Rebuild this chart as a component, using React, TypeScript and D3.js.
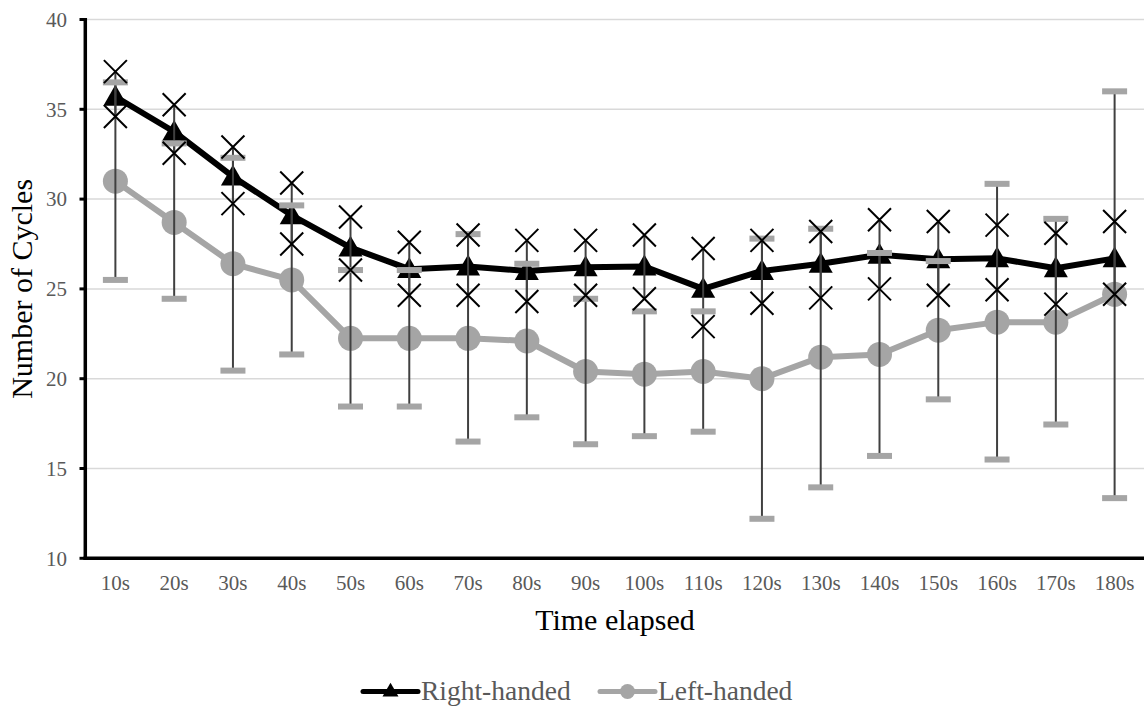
import React from "react";
import * as d3 from "d3";

const categories = ["10s", "20s", "30s", "40s", "50s", "60s", "70s", "80s", "90s", "100s", "110s", "120s", "130s", "140s", "150s", "160s", "170s", "180s"];

const rightMean = [35.7, 33.75, 31.25, 29.1, 27.3, 26.1, 26.25, 26.0, 26.2, 26.25, 25.0, 26.0, 26.4, 26.9, 26.65, 26.7, 26.15, 26.7];
const rightHigh = [37.1, 35.25, 32.9, 30.9, 29.0, 27.6, 28.0, 27.7, 27.7, 28.0, 27.25, 27.7, 28.2, 28.85, 28.75, 28.55, 28.1, 28.75];
const rightLow = [34.6, 32.55, 29.75, 27.5, 26.05, 24.65, 24.65, 24.3, 24.65, 24.45, 22.9, 24.2, 24.5, 25.0, 24.65, 24.95, 24.15, 24.7];

const leftMean = [31.0, 28.7, 26.4, 25.5, 22.25, 22.25, 22.25, 22.1, 20.4, 20.25, 20.4, 20.0, 21.2, 21.35, 22.7, 23.15, 23.15, 24.7];
const leftHigh = [36.5, 33.1, 32.3, 29.65, 26.05, 26.05, 28.05, 26.4, 24.45, 23.75, 23.75, 27.8, 28.35, 27.0, 26.55, 30.85, 28.9, 36.0];
const leftLow = [25.5, 24.45, 20.45, 21.35, 18.45, 18.45, 16.5, 17.85, 16.35, 16.8, 17.05, 12.2, 13.95, 15.7, 18.85, 15.5, 17.45, 13.35];

const yTicks = [10, 15, 20, 25, 30, 35, 40];

const width = 1144;
const height = 706;
const font = "'Liberation Serif', 'Times New Roman', serif";
const black = "#000000";
const gray = "#a5a5a5";

export default function App() {
  const x = d3.scalePoint<string>().domain(categories).range([86, 1144]).padding(0.5);
  const y = d3.scaleLinear().domain([10, 40]).range([558.3, 19.5]);

  const lineGen = d3
    .line<number>()
    .x((_, i) => x(categories[i]) as number)
    .y((d) => y(d));

  const tri = d3.symbol().type(d3.symbolTriangle).size(250)();
  const triSmall = d3.symbol().type(d3.symbolTriangle).size(110)();

  const cross = (cx: number, cy: number, r: number) =>
    `M${cx - r},${cy - r}L${cx + r},${cy + r}M${cx - r},${cy + r}L${cx + r},${cy - r}`;

  return (
    <div style={{ position: "absolute", left: 0, top: 0 }}>
      <svg width={width} height={height} style={{ display: "block", background: "#fff" }}>
        {/* gridlines */}
        {yTicks.map((t) => (
          <line key={"g" + t} x1={86} x2={1144} y1={y(t)} y2={y(t)} stroke="#d9d9d9" strokeWidth={1.5} />
        ))}

        {/* y tick labels and ticks */}
        {yTicks.map((t) => (
          <g key={"t" + t}>
            <line x1={79.5} x2={85} y1={y(t)} y2={y(t)} stroke={black} strokeWidth={3} />
            <text x={67} y={y(t)} dy="0.35em" textAnchor="end" fontFamily={font} fontSize={21} fill="#595959">
              {t}
            </text>
          </g>
        ))}

        {/* x tick labels */}
        {categories.map((c) => (
          <text key={"x" + c} x={x(c)} y={590} textAnchor="middle" fontFamily={font} fontSize={21} fill="#595959">
            {c}
          </text>
        ))}

        {/* left-handed series */}
        <path d={lineGen(leftMean) || ""} fill="none" stroke={gray} strokeWidth={6} strokeLinejoin="round" />
        {leftMean.map((v, i) => (
          <circle key={"c" + i} cx={x(categories[i])} cy={y(v)} r={12.5} fill={gray} />
        ))}

        {/* right-handed series */}
        <path d={lineGen(rightMean) || ""} fill="none" stroke={black} strokeWidth={6} strokeLinejoin="round" />
        {rightMean.map((v, i) => (
          <path key={"tr" + i} d={tri || ""} transform={`translate(${x(categories[i])},${y(v) + 2})`} fill={black} />
        ))}

        {/* error bars */}
        {categories.map((c, i) => (
          <g key={"e" + c}>
            <line x1={x(c)} x2={x(c)} y1={y(leftHigh[i])} y2={y(leftLow[i])} stroke="#404040" strokeWidth={2} />
            <line x1={x(c)} x2={x(c)} y1={y(rightHigh[i])} y2={y(rightLow[i])} stroke="#404040" strokeWidth={2} />
          </g>
        ))}
        {categories.map((c, i) => (
          <g key={"cap" + c}>
            <rect x={(x(c) as number) - 12.5} y={y(leftHigh[i]) - 3} width={25} height={6} fill={gray} />
            <rect x={(x(c) as number) - 12.5} y={y(leftLow[i]) - 3} width={25} height={6} fill={gray} />
          </g>
        ))}
        {categories.map((c, i) => (
          <g key={"xm" + c}>
            <path d={cross(x(c) as number, y(rightHigh[i]), 11.5)} stroke={black} strokeWidth={2} fill="none" />
            <path d={cross(x(c) as number, y(rightLow[i]), 11.5)} stroke={black} strokeWidth={2} fill="none" />
          </g>
        ))}

        {/* axes */}
        <line x1={85.3} x2={85.3} y1={18} y2={560} stroke={black} strokeWidth={3.5} />
        <line x1={83.5} x2={1144} y1={558.3} y2={558.3} stroke={black} strokeWidth={3.5} />

        {/* axis titles */}
        <text x={615} y={630} textAnchor="middle" fontFamily={font} fontSize={30} fill={black}>
          Time elapsed
        </text>
        <text
          transform={`translate(32,${(y(10) + y(40)) / 2}) rotate(-90)`}
          textAnchor="middle"
          fontFamily={font}
          fontSize={30}
          fill={black}
        >
          Number of Cycles
        </text>

        {/* legend */}
        <g>
          <line x1={363} x2={418} y1={691.5} y2={691.5} stroke={black} strokeWidth={5} strokeLinecap="round" />
          <path d={triSmall || ""} transform="translate(390.5,692)" fill={black} />
          <text x={421} y={700} fontFamily={font} fontSize={27.5} fill="#595959">
            Right-handed
          </text>
          <line x1={600} x2={655} y1={691.5} y2={691.5} stroke={gray} strokeWidth={5} strokeLinecap="round" />
          <circle cx={627.5} cy={691.5} r={7.5} fill={gray} />
          <text x={658} y={700} fontFamily={font} fontSize={27.5} fill="#595959">
            Left-handed
          </text>
        </g>
      </svg>
    </div>
  );
}
